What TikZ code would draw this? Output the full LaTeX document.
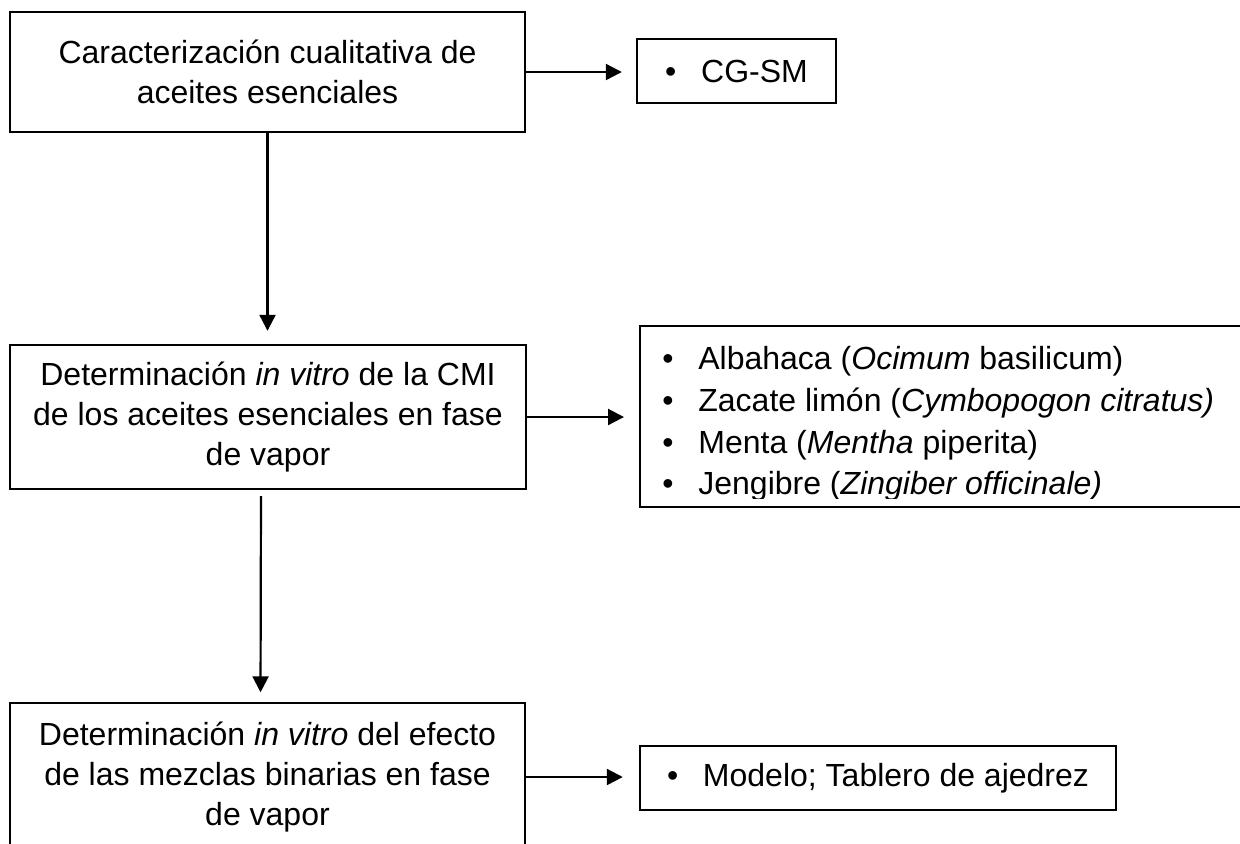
\documentclass[tikz,border=0pt]{standalone}
\usepackage{fontspec}
\setmainfont{Liberation Sans}
\usetikzlibrary{arrows.meta}

\begin{document}
\begin{tikzpicture}[x=0.5pt,y=-0.5pt,
        caja/.style={draw,line width=1.2pt,align=center,inner sep=0pt,
            font=\fontsize{16pt}{20pt}\selectfont},
        flecha/.style={line width=1.1pt,-{Triangle[length=8pt,width=8pt]}}]
        \useasboundingbox (0,0) rectangle (1240,843);
        \clip (0,0) rectangle (1240,843);

        \node[caja,minimum width=257.5pt,minimum height=60pt] (car) at (267.5,72)
            {Caracterización cualitativa de\\aceites esenciales};
        \node[caja,minimum width=258pt,minimum height=72pt] (cmi) at (268,417)
            {Determinación \textit{in vitro} de la CMI\\de los aceites esenciales en fase\\de vapor};
        \node[caja,line width=0.7pt,minimum width=257.5pt,minimum height=74pt] (mez) at (267.5,777)
            {Determinación \textit{in vitro} del efecto\\de las mezclas binarias en fase\\de vapor};

        \node[caja,minimum width=99.5pt,minimum height=32pt] (cgsm) at (736.5,71)
            {\makebox[18pt][l]{•}CG-SM};
        \node[caja,minimum width=350pt,minimum height=90.5pt,anchor=west] (plantas) at (639,416.5) {};
        \begin{scope}
            \clip (plantas.north west) rectangle ([yshift=5pt]plantas.south east);
            \node[anchor=north west,align=left,inner sep=0pt,
                font=\fontsize{16pt}{20.85pt}\selectfont] (lista) at (662,346)
                {\makebox[18pt][l]{•}Albahaca (\textit{Ocimum} basilicum)\\
                 \makebox[18pt][l]{•}Zacate limón (\textit{Cymbopogon citratus)}\\
                 \makebox[18pt][l]{•}Menta (\textit{Mentha} piperita)\\
                 \makebox[18pt][l]{•}Jengibre (\textit{Zingiber officinale)}};
        \end{scope}
        \node[caja,minimum width=238pt,minimum height=32pt] (modelo) at (878,778)
            {\makebox[18pt][l]{•}Modelo; Tablero de ajedrez};

        \draw[flecha,shorten >=7pt] (car.east) -- (car.east -| cgsm.west);
        \draw[flecha,shorten >=7.5pt] (cmi.east) -- (cmi.east -| plantas.west);
        \draw[flecha,shorten >=8pt] (mez.east) -- (mez.east -| modelo.west);
        \draw[flecha,shorten >=6.5pt] (car.south) -- (car.south |- cmi.north);
        \draw[flecha,shorten <=3pt,shorten >=5pt] ([xshift=-3.5pt]cmi.south) -- ([xshift=-3.5pt]mez.north);
    \end{tikzpicture}
\end{document}
